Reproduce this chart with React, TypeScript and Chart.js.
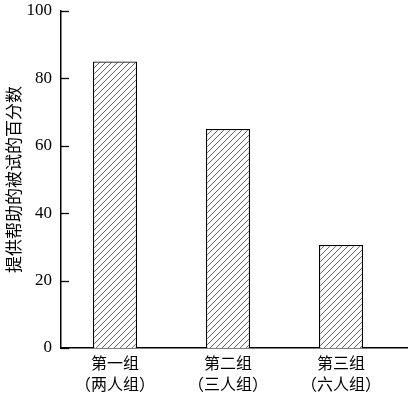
import React, { useEffect, useRef } from "react";
import { Chart, registerables } from "chart.js";
Chart.register(...registerables);

const categories: string[][] = [
  ["第一组", "（两人组）"],
  ["第二组", "（三人组）"],
  ["第三组", "（六人组）"],
];
const values: number[] = [85, 65, 30.6];
const yTicks: number[] = [0, 20, 40, 60, 80, 100];
const yTitle = "提供帮助的被试的百分数";
// category axis span (in category index units)
const xStart = -0.478;
const xEnd = 2.584;

function makeHatch(): CanvasPattern | string {
  const c = document.createElement("canvas");
  const s = 6;
  c.width = s;
  c.height = s;
  const g = c.getContext("2d");
  if (!g) return "#fff";
  g.fillStyle = "#fff";
  g.fillRect(0, 0, s, s);
  g.strokeStyle = "#555";
  g.lineWidth = 0.9;
  g.beginPath();
  g.moveTo(0, s);
  g.lineTo(s, 0);
  g.moveTo(-1, 1);
  g.lineTo(1, -1);
  g.moveTo(s - 1, s + 1);
  g.lineTo(s + 1, s - 1);
  g.stroke();
  return g.createPattern(c, "repeat") || "#fff";
}

const spanPlugin = {
  id: "spanPlugin",
  afterLayout(chart: any) {
    const x = chart.scales.x;
    x._startValue = xStart;
    x._valueRange = xEnd - xStart;
  },
};

const inwardTicks = {
  id: "inwardTicks",
  afterDatasetsDraw(chart: any) {
    const y = chart.scales.y;
    const ctx = chart.ctx;
    const left = chart.chartArea.left;
    ctx.save();
    ctx.strokeStyle = "#000";
    ctx.lineWidth = 1.3;
    yTicks.forEach((v) => {
      const py = Math.round(y.getPixelForValue(v)) + 0.5;
      ctx.beginPath();
      ctx.moveTo(left, py);
      ctx.lineTo(left + 8, py);
      ctx.stroke();
    });
    ctx.restore();
  },
};

export default function App() {
  const ref = useRef<HTMLCanvasElement>(null);
  useEffect(() => {
    document.body.style.margin = "0";
    const chart = new Chart(ref.current!, {
      type: "bar",
      data: {
        labels: categories,
        datasets: [
          {
            data: values,
            backgroundColor: makeHatch() as any,
            borderColor: "#000",
            borderWidth: 1.3,
            categoryPercentage: 1,
            barPercentage: 0.39,
          },
        ],
      },
      options: {
        responsive: false,
        animation: false,
        layout: { padding: { top: 11, right: 1, left: 3, bottom: 0 } },
        plugins: { legend: { display: false }, tooltip: { enabled: false } },
        scales: {
          x: {
            grid: { display: false, drawTicks: false },
            border: { display: true, color: "#000", width: 1.5 },
            ticks: {
              color: "#000",
              padding: 5,
              font: { family: "'Noto Sans CJK SC'", size: 16, lineHeight: 1.3 },
              maxRotation: 0,
            },
            afterFit: (s: any) => {
              s.height = 46;
              s.paddingLeft = 0;
              s.paddingRight = 0;
            },
          },
          y: {
            min: 0,
            max: 100,
            afterBuildTicks: (s: any) => {
              s.ticks = yTicks.map((v) => ({ value: v }));
            },
            grid: { display: false, drawTicks: false },
            border: { display: true, color: "#000", width: 1.5 },
            ticks: {
              color: "#000",
              padding: 9,
              font: { family: "'Liberation Serif'", size: 17 },
            },
            title: {
              display: true,
              text: yTitle,
              color: "#000",
              padding: { top: 0, bottom: 0 },
              font: { family: "'Noto Sans CJK SC'", size: 17 },
            },
            afterFit: (s: any) => {
              s.width = 58;
              s.paddingTop = 0;
              s.paddingBottom = 0;
            },
          },
        },
      },
      plugins: [spanPlugin, inwardTicks],
    });
    return () => chart.destroy();
  }, []);
  return (
    <div style={{ position: "absolute", left: 0, top: 0, width: 408, height: 394, background: "#fff" }}>
      <canvas ref={ref} width={408} height={394} />
    </div>
  );
}
